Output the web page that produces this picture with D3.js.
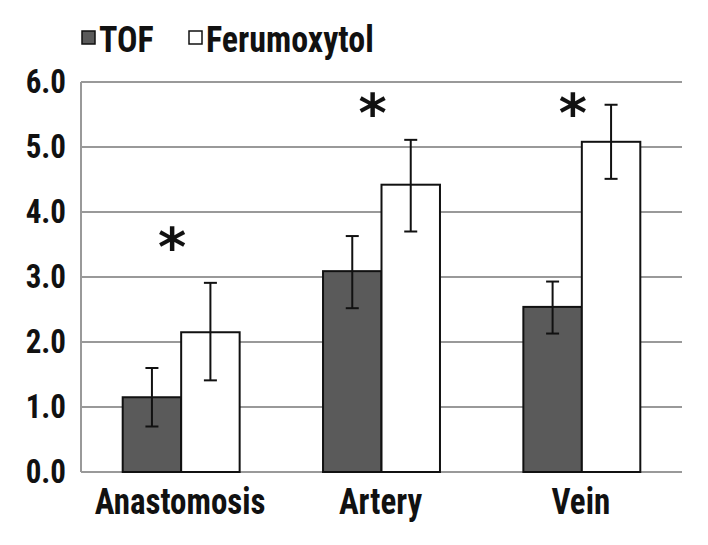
<!DOCTYPE html>
<html><head><meta charset="utf-8">
<script src="https://cdn.jsdelivr.net/npm/d3@7"></script>
<style>
body{margin:0;background:#fff;}
svg text{font-family:"Liberation Sans Narrow","Roboto Condensed","Arial Narrow",sans-serif;fill:#111;}
</style></head>
<body><svg id="c" width="708" height="545"></svg>
<script>
const categories = ["Anastomosis","Artery","Vein"];
const seriesNames = ["TOF","Ferumoxytol"];
const tofValues = [1.15, 3.09, 2.54];
const tofErrLow = [0.70, 2.52, 2.13];
const tofErrHigh = [1.60, 3.63, 2.93];
const ferValues = [2.15, 4.42, 5.08];
const ferErrLow = [1.41, 3.70, 4.51];
const ferErrHigh = [2.91, 5.11, 5.65];
const significant = [true, true, true];
const starLevels = [3.5, 5.55, 5.55];
const yTicks = [0,1,2,3,4,5,6];
const colors = ["#5a5a5a","#ffffff"];

const svg = d3.select("#c");
const m = {l:81, r:26, t:82, b:73};
const W = 708, H = 545;
const x = d3.scaleBand().domain(categories).range([m.l, W-m.r]).paddingInner(0).paddingOuter(0);
const x1 = d3.scaleBand().domain(seriesNames).range([0, x.bandwidth()]).paddingInner(0).paddingOuter(0.713);
const y = d3.scaleLinear().domain([0,6]).range([H-m.b, m.t]);

function stretched(sel, sy){
  return sel.attr("transform", function(){
    const tx = +this.getAttribute("data-x"), ty = +this.getAttribute("data-y");
    return `translate(${tx},${ty}) scale(1,${sy})`;
  });
}

// gridlines
svg.append("g").selectAll("line").data(yTicks).join("line")
  .attr("x1", m.l).attr("x2", W-m.r)
  .attr("y1", d=>y(d)).attr("y2", d=>y(d))
  .attr("stroke","#999").attr("stroke-width",2);
svg.append("line").attr("x1",m.l).attr("x2",m.l).attr("y1",y(6)).attr("y2",y(0))
  .attr("stroke","#999").attr("stroke-width",2);

// y labels
svg.append("g").selectAll("text").data(yTicks).join("text")
  .attr("data-x", 66).attr("data-y", d=>y(d)+11)
  .attr("text-anchor","end").attr("font-size",31).attr("font-weight","bold")
  .call(stretched, 1.08)
  .text(d=>d.toFixed(1));

const data = categories.map((c,i)=>[
  {cat:c, s:"TOF", v:tofValues[i], lo:tofErrLow[i], hi:tofErrHigh[i], col:colors[0]},
  {cat:c, s:"Ferumoxytol", v:ferValues[i], lo:ferErrLow[i], hi:ferErrHigh[i], col:colors[1]}
]).flat();

svg.append("g").selectAll("rect").data(data).join("rect")
  .attr("x", d=>x(d.cat)+x1(d.s)).attr("width", x1.bandwidth())
  .attr("y", d=>y(d.v)).attr("height", d=>y(0)-y(d.v))
  .attr("fill", d=>d.col).attr("stroke","#111").attr("stroke-width",2);

const eb = svg.append("g").attr("stroke","#111").attr("stroke-width",2);
data.forEach(d=>{
  const cx = x(d.cat)+x1(d.s)+x1.bandwidth()/2;
  eb.append("line").attr("x1",cx).attr("x2",cx).attr("y1",y(d.lo)).attr("y2",y(d.hi));
  eb.append("line").attr("x1",cx-6.5).attr("x2",cx+6.5).attr("y1",y(d.lo)).attr("y2",y(d.lo));
  eb.append("line").attr("x1",cx-6.5).attr("x2",cx+6.5).attr("y1",y(d.hi)).attr("y2",y(d.hi));
});

// asterisks
svg.append("g").selectAll("text").data(categories.filter((c,i)=>significant[i]))
  .join("text")
  .attr("x", c=>x(c)+x.bandwidth()/2 - 9)
  .attr("y", c=>y(starLevels[categories.indexOf(c)]) + 21)
  .attr("text-anchor","middle").attr("font-size",54).attr("font-weight","bold")
  .style("font-family","'DejaVu Sans',sans-serif")
  .text("*");

// x labels
svg.append("g").selectAll("text").data(categories).join("text")
  .attr("data-x", c=>x(c)+x.bandwidth()/2 - 1).attr("data-y", 514)
  .attr("text-anchor","middle").attr("font-size",33).attr("font-weight","bold")
  .call(stretched, 1.12)
  .text(c=>c);

// legend
const leg = svg.append("g");
const legX = [81, 188];
seriesNames.forEach((s,i)=>{
  leg.append("rect").attr("x",legX[i]+1).attr("y",31).attr("width",13).attr("height",13)
    .attr("fill",colors[i]).attr("stroke","#111").attr("stroke-width",1.5);
  leg.append("text").attr("data-x",legX[i]+18).attr("data-y",52).attr("font-size",34).attr("font-weight","bold")
    .call(stretched, 1.08)
    .text(s);
});
</script></body></html>
